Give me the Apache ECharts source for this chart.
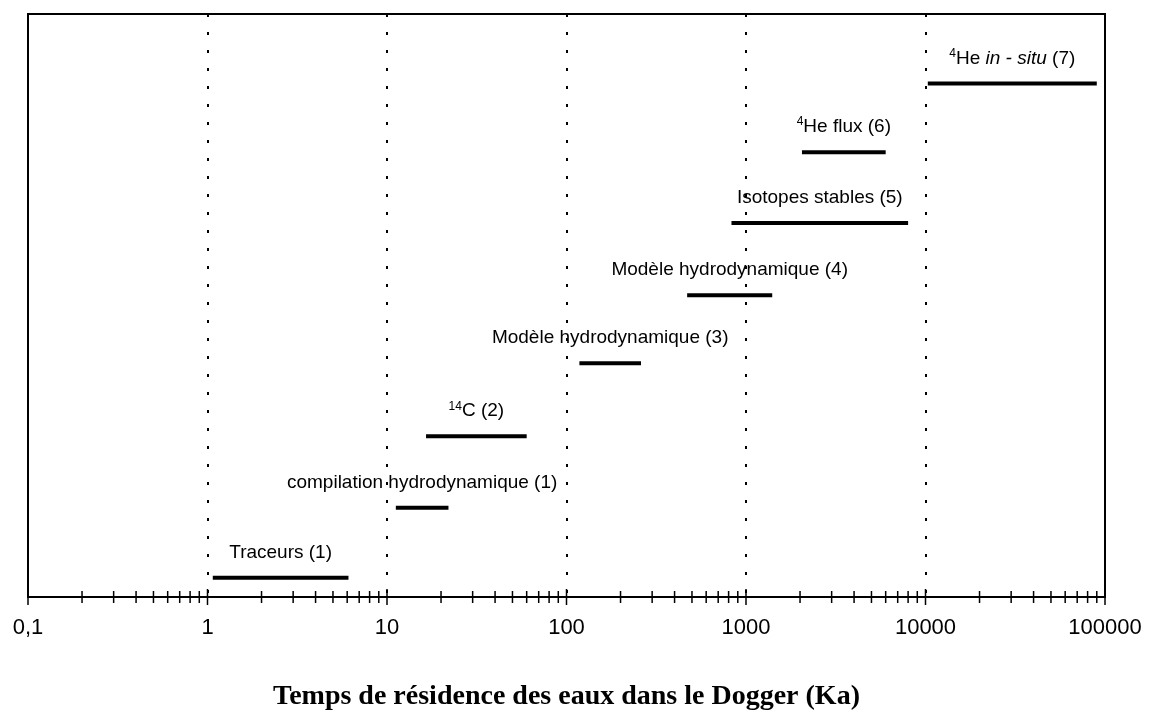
<!DOCTYPE html>
<html>
<head>
<meta charset="utf-8">
<script src="https://cdn.jsdelivr.net/npm/echarts@6/dist/echarts.min.js"></script>
<style>
  html, body { margin: 0; background: #fff; }
  #chart { width: 1151px; height: 720px; }
</style>
</head>
<body>
<div id="chart"></div>
<script>
// Méthodes et plages de temps de résidence (Ka)
const methods = [
  'Traceurs (1)',
  'compilation hydrodynamique (1)',
  '{sup|14}C (2)',
  'Modèle hydrodynamique (3)',
  'Modèle hydrodynamique (4)',
  'Isotopes stables (5)',
  '{sup|4}He flux (6)',
  '{sup|4}He {it|in - situ} (7)'
];
const rangeStart = [1.07, 11.2, 16.5, 118, 470, 830, 2050, 10300];
const rangeEnd = [6.1, 22, 60, 260, 1400, 8000, 6000, 90000];
const levels = [0.27, 1.26, 2.27, 3.3, 4.26, 5.28, 6.28, 7.25];
const tickLabels = ['0,1', '1', '10', '100', '1000', '10000', '100000'];

// graduations log : 1..9 par décade
const decades = [0.1, 1, 10, 100, 1000, 10000];
const tickValues = [];
decades.forEach(d => {
  for (let m = 1; m <= 9; m++) tickValues.push(d * m);
});
tickValues.push(100000);

const chart = echarts.init(document.getElementById('chart'));

const labelFont = '"Liberation Sans", Arial, Helvetica, sans-serif';

const option = {
  animation: false,
  grid: {
    left: 28,
    right: 46,
    top: 14,
    bottom: 123,
    show: true,
    borderColor: '#000',
    borderWidth: 2
  },
  xAxis: {
    type: 'log',
    logBase: 10,
    min: 0.1,
    max: 100000,
    axisLine: { lineStyle: { color: '#000', width: 2 } },
    axisTick: { show: false },
    axisLabel: {
      margin: 20,
      color: '#000',
      fontFamily: labelFont,
      fontSize: 22,
      formatter: v => tickLabels[Math.round(Math.log10(v)) + 1]
    },
    splitLine: {
      show: true,
      lineStyle: { color: '#000', width: 2, type: [3, 15] }
    },
    name: 'Temps de résidence des eaux dans le Dogger (Ka)',
    nameLocation: 'middle',
    nameGap: 86,
    nameTextStyle: {
      color: '#000',
      fontFamily: '"Liberation Serif", "Times New Roman", serif',
      fontWeight: 'bold',
      fontSize: 28
    }
  },
  yAxis: {
    type: 'value',
    min: 0,
    max: 8.23,
    show: false
  },
  series: [
    {
      type: 'custom',
      name: 'plages',
      data: rangeStart.map((s, i) => [s, rangeEnd[i], levels[i]]),
      encode: { x: [0, 1], y: 2 },
      renderItem: (params, api) => {
        const p1 = api.coord([api.value(0), api.value(2)]);
        const p2 = api.coord([api.value(1), api.value(2)]);
        return {
          type: 'group',
          children: [
            {
              type: 'line',
              shape: { x1: p1[0], y1: p1[1], x2: p2[0], y2: p2[1] },
              style: { stroke: '#000', lineWidth: 4 }
            },
            {
              type: 'text',
              style: {
                text: methods[params.dataIndex],
                x: (p1[0] + p2[0]) / 2,
                y: p1[1] - 14,
                align: 'center',
                verticalAlign: 'bottom',
                fontFamily: labelFont,
                fontSize: 19,
                lineHeight: 22,
                fill: '#000',
                rich: {
                  sup: { fontSize: 12, verticalAlign: 'top', lineHeight: 22, fontFamily: labelFont },
                  it: { fontStyle: 'italic', fontSize: 19, fontFamily: labelFont }
                }
              }
            }
          ]
        };
      }
    },
    {
      type: 'custom',
      name: 'graduations',
      silent: true,
      data: tickValues.map(v => [v, 0]),
      encode: { x: 0, y: 1 },
      renderItem: (params, api) => {
        const v = api.value(0);
        const p = api.coord([v, 0]);
        const lg = Math.log10(v);
        const half = Math.abs(lg - Math.round(lg)) < 1e-6 ? 8 : 6;
        return {
          type: 'line',
          shape: { x1: p[0], y1: p[1] - half, x2: p[0], y2: p[1] + half },
          style: { stroke: '#000', lineWidth: 1.5 }
        };
      }
    }
  ]
};

chart.setOption(option);
window.addEventListener('resize', () => chart.resize());
</script>
</body>
</html>
